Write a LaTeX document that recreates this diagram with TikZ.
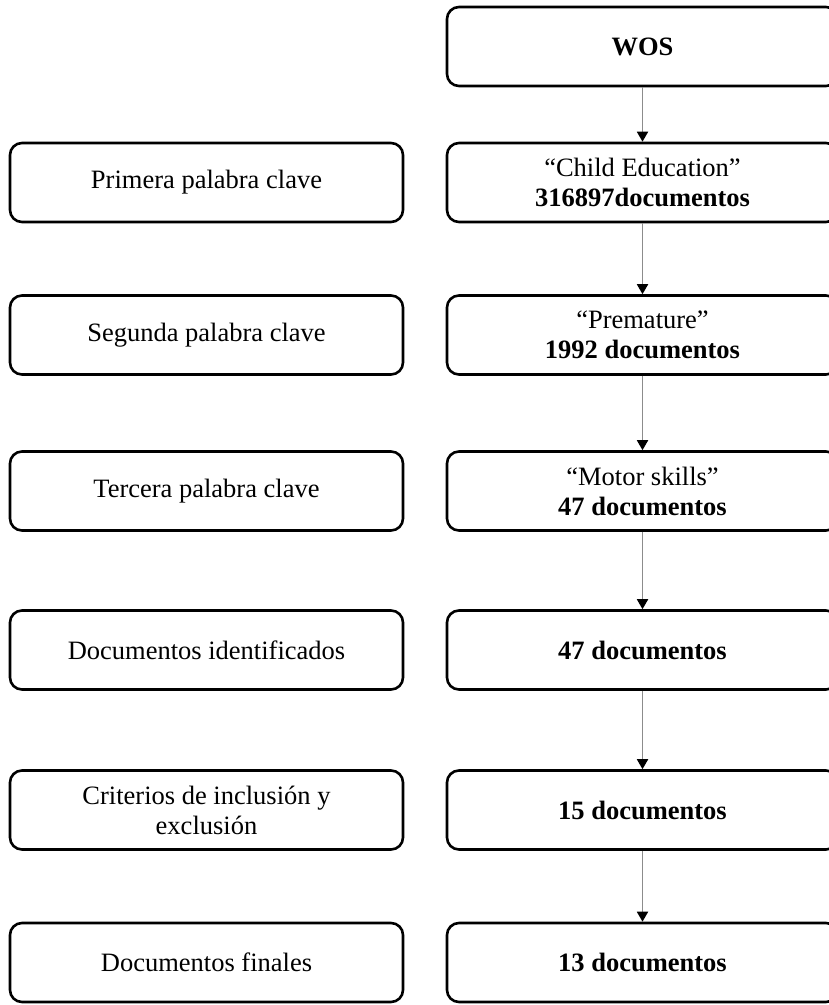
\documentclass[tikz,border=0pt]{standalone}
\usepackage{fontspec}
\setmainfont{Liberation Serif}
\usetikzlibrary{arrows.meta}
\begin{document}
\begin{tikzpicture}[x=1pt,y=-1pt,
  box/.style={draw=black, line width=2.6pt, rounded corners=12pt,
    minimum width=393pt, minimum height=79pt, align=center,
    font=\fontsize{26.5}{30}\selectfont, inner sep=0pt},
  rbox/.style={box, minimum width=391pt},
  flow/.style={draw=black!45, line width=1.8pt,
    -{Triangle[color=black,length=10pt,width=11pt]}}]
\clip (0,0) rectangle (829,1005);
\useasboundingbox (0,0) rectangle (829,1005);

\node[rbox] (wos) at (642.5,46.5) {\textbf{WOS}};

\node[box]  (l1) at (206.5,182.5) {Primera palabra clave};
\node[rbox] (r1) at (642.5,182.5) {“Child Education”\\\textbf{316897documentos}};

\node[box]  (l2) at (206.5,335) {Segunda palabra clave};
\node[rbox] (r2) at (642.5,335) {“Premature”\\\textbf{1992 documentos}};

\node[box]  (l3) at (206.5,491) {Tercera palabra clave};
\node[rbox] (r3) at (642.5,491) {“Motor skills”\\\textbf{47 documentos}};

\node[box]  (l4) at (206.5,650) {Documentos identificados};
\node[rbox] (r4) at (642.5,650) {\textbf{47 documentos}};

\node[box]  (l5) at (206.5,810) {Criterios de inclusión y\\exclusión};
\node[rbox] (r5) at (642.5,810) {\textbf{15 documentos}};

\node[box]  (l6) at (206.5,962.5) {Documentos finales};
\node[rbox] (r6) at (642.5,962.5) {\textbf{13 documentos}};

\draw[flow] (wos) -- (r1);
\draw[flow] (r1) -- (r2);
\draw[flow] (r2) -- (r3);
\draw[flow] (r3) -- (r4);
\draw[flow] (r4) -- (r5);
\draw[flow] (r5) -- (r6);
\end{tikzpicture}
\end{document}
